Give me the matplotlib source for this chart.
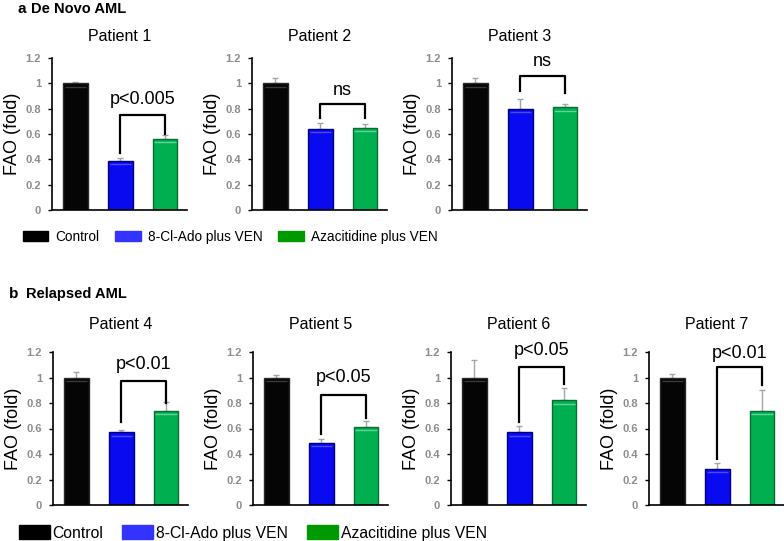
import numpy as np
import matplotlib
matplotlib.use("Agg")
import matplotlib.pyplot as plt
from matplotlib.patches import Patch
from matplotlib.ticker import FuncFormatter

plt.rcParams['font.family'] = ['Liberation Sans', 'DejaVu Sans']

# values
patients = ["Patient 1", "Patient 2", "Patient 3",
            "Patient 4", "Patient 5", "Patient 6", "Patient 7"]
control = [1.0, 1.0, 1.0, 1.0, 1.0, 1.0, 1.0]
control_err = [0.01, 0.04, 0.04, 0.04, 0.02, 0.14, 0.03]
ado = [0.39, 0.64, 0.80, 0.57, 0.49, 0.57, 0.28]
ado_err = [0.02, 0.045, 0.08, 0.02, 0.03, 0.05, 0.05]
aza = [0.56, 0.65, 0.81, 0.74, 0.61, 0.82, 0.74]
aza_err = [0.035, 0.025, 0.03, 0.07, 0.045, 0.10, 0.16]

p_labels = ["p<0.005", "ns", "ns", "p<0.01", "p<0.05", "p<0.05", "p<0.01"]
bracket_top = [0.75, 0.84, 1.06, 0.97, 0.86, 1.08, 1.08]
bracket_left = [0.45, 0.73, 0.94, 0.65, 0.56, 0.65, 0.36]
bracket_right = [0.60, 0.73, 0.92, 0.80, 0.68, 0.95, 0.94]
p_y = [0.87, 0.94, 1.17, 1.10, 1.00, 1.21, 1.19]

groups = ["Control", "8-Cl-Ado plus VEN", "Azacitidine plus VEN"]
bar_colors = ["#050505", "#0a0af0", "#00b050"]
edge_colors = ["#2a2a2a", "#00007a", "#0b6b35"]
shine_colors = ["#3a3a3a", "#4a4aff", "#5fd493"]
legend_colors = ["#000000", "#3333ff", "#009a00"]
yticks = [0, 0.2, 0.4, 0.6, 0.8, 1.0, 1.2]

fig = plt.figure(figsize=(7.84, 5.41), dpi=100)

W, H = 784.0, 541.0
ax_w = 135 / W
row_a = dict(bottom=(H - 210) / H, height=152 / H, lefts=[52, 252, 452], pad=12)
row_b = dict(bottom=(H - 505) / H, height=153 / H, lefts=[53, 253, 451, 649], pad=16.5)

axes = []
pads = []
for row in (row_a, row_b):
    for left in row["lefts"]:
        axes.append(fig.add_axes([left / W, row["bottom"], ax_w, row["height"]]))
        pads.append(row["pad"])

fmt = FuncFormatter(lambda v, _: ("%g" % round(v, 1)))
x = np.arange(3)
bw = 0.55
for i, ax in enumerate(axes):
    vals = np.array([control[i], ado[i], aza[i]])
    errs = [control_err[i], ado_err[i], aza_err[i]]
    ax.bar(x, vals, width=bw, color=bar_colors, edgecolor=edge_colors,
           linewidth=1.0, zorder=2)
    # light band just under the top of each bar
    ax.hlines(vals - 0.025, x - bw / 2 + 0.04, x + bw / 2 - 0.04,
              colors=shine_colors, lw=1.0, zorder=3)
    ax.errorbar(x, vals, yerr=[[0, 0, 0], errs], fmt="none", ecolor="#a6a6a6",
                elinewidth=1.0, capsize=2, capthick=1.0, zorder=1)
    # significance bracket between the two treatments
    ax.plot([1, 1, 2, 2],
            [bracket_left[i], bracket_top[i], bracket_top[i], bracket_right[i]],
            color="black", lw=1.6, clip_on=False, zorder=3)
    ax.text(1.5, p_y[i], p_labels[i], ha="center", va="center",
            fontsize=13, clip_on=False)

    ax.set_xlim(-0.52, 2.49)
    ax.set_ylim(0, 1.2)
    ax.set_yticks(yticks)
    ax.yaxis.set_major_formatter(fmt)
    ax.set_xticks([])
    for s in ("top", "right"):
        ax.spines[s].set_visible(False)
    for s in ("left", "bottom"):
        ax.spines[s].set_linewidth(1.2)
    ax.tick_params(axis="y", length=3, width=1, pad=5, labelsize=8,
                   labelcolor="#8c8c8c")
    for lab in ax.get_yticklabels():
        lab.set_fontweight("bold")
    ax.set_ylabel("FAO (fold)", fontsize=13, labelpad=3)
    ax.set_title(patients[i], fontsize=11.5, pad=pads[i])

# section headings
fig.text(17 / W, 1 - 9 / H, "a", fontsize=11, fontweight="bold", va="center")
fig.text(31 / W, 1 - 9 / H, "De Novo AML", fontsize=10.5, fontweight="bold", va="center")
fig.text(9 / W, 1 - 294 / H, "b", fontsize=11, fontweight="bold", va="center")
fig.text(26 / W, 1 - 294 / H, "Relapsed AML", fontsize=10.5, fontweight="bold", va="center")

handles = [Patch(facecolor=c, edgecolor=c) for c in legend_colors]
fig.legend(handles, groups, loc="center left", bbox_to_anchor=(23 / W, 1 - 237 / H),
           ncol=3, frameon=False, fontsize=9.8, borderpad=0, borderaxespad=0,
           handlelength=1.85, handleheight=0.8, handletextpad=0.55,
           columnspacing=1.15)
fig.legend(handles, groups, loc="center left", bbox_to_anchor=(19 / W, 1 - 533 / H),
           ncol=3, frameon=False, fontsize=11.3, borderpad=0, borderaxespad=0,
           handlelength=1.95, handleheight=1.0, handletextpad=0.2,
           columnspacing=1.2)

fig.savefig("out.png", dpi=100)
